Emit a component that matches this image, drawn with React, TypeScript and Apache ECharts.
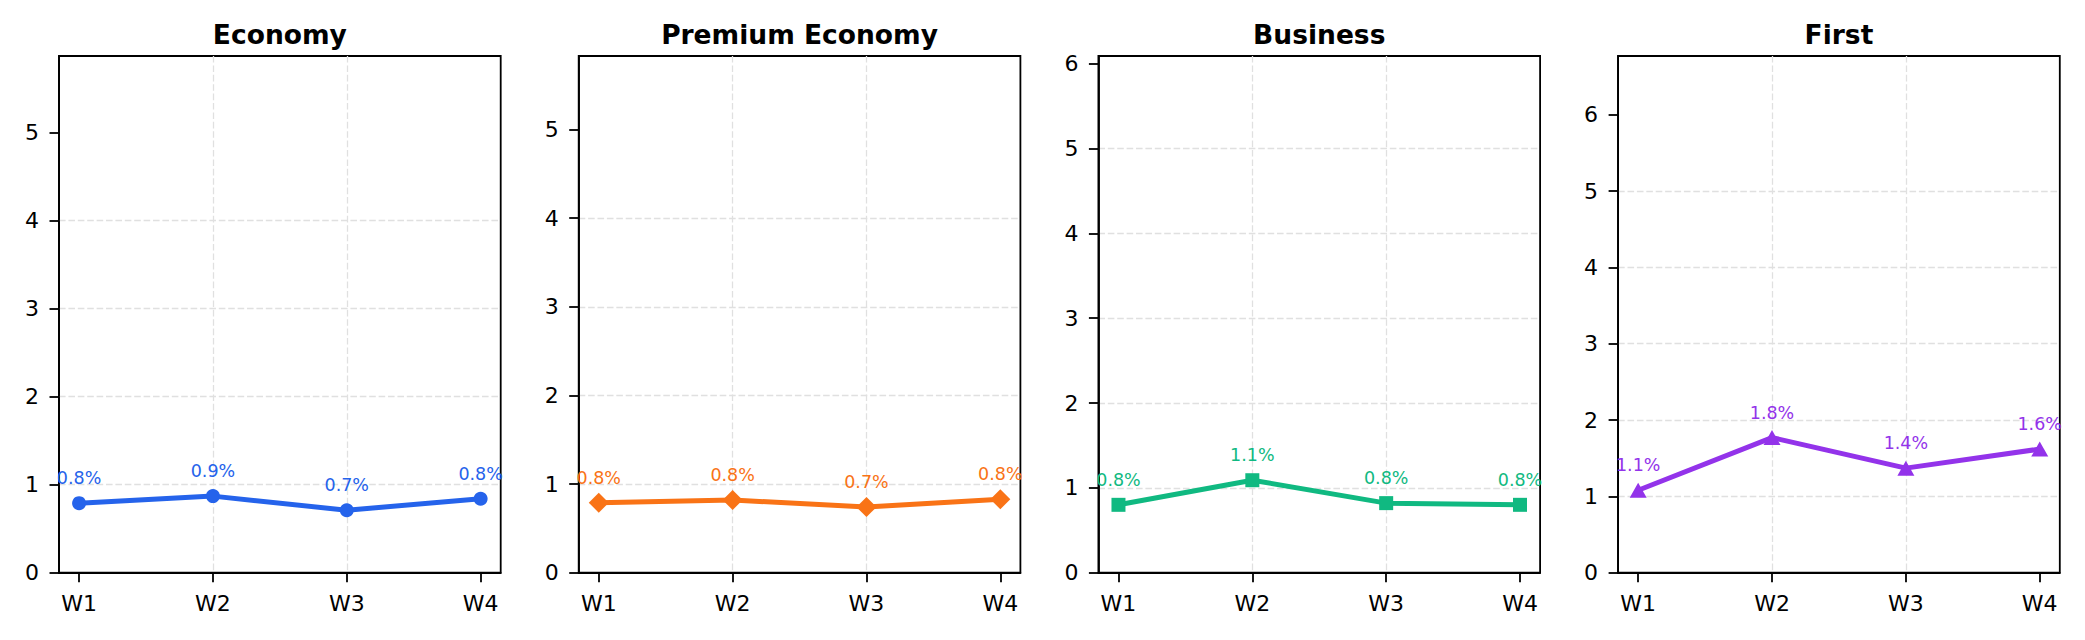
import React, { useEffect, useRef } from "react";
import * as echarts from "echarts";

const categories = ["W1", "W2", "W3", "W4"];
const panelTitles = ["Economy", "Premium Economy", "Business", "First"];
const economy = [0.79, 0.87, 0.71, 0.84];
const premiumEconomy = [0.79, 0.82, 0.74, 0.83];
const business = [0.8, 1.09, 0.82, 0.8];
const first = [1.08, 1.77, 1.37, 1.62];
const seriesValues = [economy, premiumEconomy, business, first];
const colors = ["#2563eb", "#f97316", "#10b981", "#9333ea"];
const symbols = ["circle", "diamond", "rect", "triangle"];
const symbolSizes: any[] = [14, 20, 14, [17, 15]];

const FONT = "DejaVu Sans";
const GRID_LEFT0 = 59;
const GRID_STEP = 519.7;
const GRID_W = 441.7;
const GRID_TOP = 56;
const GRID_H = 516.7;

export default function App() {
  const ref = useRef<HTMLDivElement>(null);
  useEffect(() => {
    document.body.style.margin = "0";
    const chart = echarts.init(ref.current!, null, { renderer: "svg" });
    const grids: any[] = [];
    const xAxes: any[] = [];
    const yAxes: any[] = [];
    const series: any[] = [];
    const titles: any[] = [];
    seriesValues.forEach((vals, i) => {
      const left = GRID_LEFT0 + i * GRID_STEP;
      grids.push({
        left,
        top: GRID_TOP,
        width: GRID_W,
        height: GRID_H,
        show: true,
        borderColor: "#000",
        borderWidth: 1.8,
        backgroundColor: "transparent",
        containLabel: false,
        outerBoundsMode: "none",
      });
      titles.push({
        text: panelTitles[i],
        left: left + GRID_W / 2,
        textAlign: "center",
        top: 20.5,
        padding: 0,
        textStyle: { fontFamily: FONT, fontWeight: "bold", fontSize: 26.5, color: "#000" },
      });
      const ymax = Math.max(...vals) + 5;
      xAxes.push({
        type: "value",
        gridIndex: i,
        min: -0.15,
        max: categories.length - 1 + 0.15,
        axisLine: { show: true, onZero: false, lineStyle: { color: "#000", width: 1.8 } },
        axisTick: {
          show: true,
          customValues: categories.map((_, k) => k),
          length: 9.5,
          lineStyle: { color: "#000", width: 1.8 },
        },
        axisLabel: {
          customValues: categories.map((_, k) => k),
          formatter: (v: number) => categories[Math.round(v)] ?? "",
          fontFamily: FONT,
          fontSize: 22,
          color: "#000",
          margin: 20,
        },
        splitLine: {
          show: true,
          showMinLine: false,
          showMaxLine: false,
          lineStyle: { color: "#e0e0e0", width: 1.3, type: [6.6, 2.8] },
        },
      });
      const yTicks: number[] = [];
      for (let t = 0; t <= Math.floor(ymax); t++) yTicks.push(t);
      yAxes.push({
        type: "value",
        gridIndex: i,
        min: 0,
        max: ymax,
        axisLine: { show: true, onZero: false, lineStyle: { color: "#000", width: 1.8 } },
        axisTick: {
          show: true,
          customValues: yTicks,
          length: 9.5,
          lineStyle: { color: "#000", width: 1.8 },
        },
        axisLabel: {
          customValues: yTicks,
          formatter: (v: number) => String(Math.round(v)),
          fontFamily: FONT,
          fontSize: 22,
          color: "#000",
          margin: 20,
        },
        splitLine: {
          show: true,
          showMinLine: false,
          showMaxLine: false,
          lineStyle: { color: "#e0e0e0", width: 1.3, type: [6.6, 2.8] },
        },
      });
      series.push({
        type: "line",
        xAxisIndex: i,
        yAxisIndex: i,
        data: vals.map((v, k) => [k, v]),
        symbol: symbols[i],
        symbolSize: symbolSizes[i],
        showSymbol: true,
        lineStyle: { color: colors[i], width: 5 },
        itemStyle: { color: colors[i] },
        label: {
          show: true,
          position: "inside",
          offset: [0, -25],
          formatter: (p: any) => p.value[1].toFixed(1) + "%",
          fontFamily: FONT,
          fontSize: 17.5,
          color: colors[i],
        },
        emphasis: { disabled: true },
        z: 3,
      });
    });
    chart.setOption({
      animation: false,
      backgroundColor: "#fff",
      title: titles,
      grid: grids,
      xAxis: xAxes,
      yAxis: yAxes,
      series,
    });
    return () => chart.dispose();
  }, []);
  return <div ref={ref} style={{ width: 2085, height: 640 }} />;
}
